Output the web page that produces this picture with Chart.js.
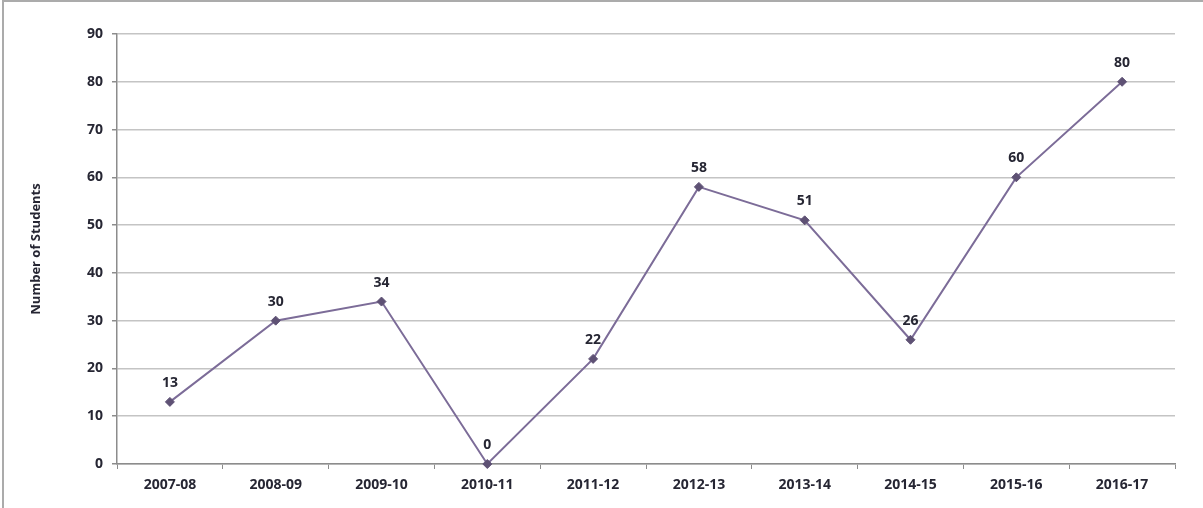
<!DOCTYPE html>
<html>
<head>
<meta charset="UTF-8"/>
<script src="https://cdn.jsdelivr.net/npm/chart.js"></script>
<style>
  html, body { margin: 0; padding: 0; background: #fff; }
  .wrap { position: relative; width: 1203px; height: 508px; }
  .frame { position: absolute; left: 2px; top: 0; width: 1300px; height: 600px; border-left: 2px solid #ababab; border-top: 2px solid #ababab; pointer-events: none; }
</style>
</head>
<body>
<div class="wrap">
  <canvas id="c" width="1203" height="508"></canvas>
  <div class="frame"></div>
</div>
<script>
const years = ['2007-08', '2008-09', '2009-10', '2010-11', '2011-12', '2012-13', '2013-14', '2014-15', '2015-16', '2016-17'];
const students = [13, 30, 34, 0, 22, 58, 51, 26, 60, 80];
const yTicks = [0, 10, 20, 30, 40, 50, 60, 70, 80, 90];

const FONT = 'Open Sans, sans-serif';
const TEXT = '#262633';

// value labels over each point
const valueLabels = {
  id: 'valueLabels',
  afterDatasetsDraw(chart) {
    const ctx = chart.ctx;
    const meta = chart.getDatasetMeta(0);
    ctx.save();
    ctx.font = 'bold 14px ' + FONT;
    ctx.fillStyle = TEXT;
    ctx.textAlign = 'center';
    ctx.textBaseline = 'middle';
    meta.data.forEach((pt, i) => {
      ctx.fillText(String(students[i]), pt.x, pt.y - 19);
    });
    ctx.restore();
  }
};

new Chart(document.getElementById('c'), {
  type: 'line',
  data: {
    labels: years,
    datasets: [{
      data: students,
      borderColor: '#7c6c98',
      borderWidth: 2,
      pointStyle: 'rectRot',
      pointRadius: 4.5,
      pointBackgroundColor: '#5e5174',
      pointBorderColor: '#5e5174',
      pointBorderWidth: 1,
      tension: 0,
      clip: false
    }]
  },
  options: {
    responsive: false,
    animation: false,
    layout: { padding: { left: 22, top: 34, right: 28, bottom: 0 } },
    plugins: { legend: { display: false }, tooltip: { enabled: false } },
    scales: {
      x: {
        offset: true,
        grid: { offset: true, drawOnChartArea: false, tickLength: 5, tickColor: '#8c8c8c' },
        border: { color: '#8c8c8c', width: 1.5 },
        ticks: { font: { family: FONT, size: 14, weight: 'bold' }, color: TEXT, padding: 8, maxRotation: 0 },
        afterFit(scale) { scale.height = 44; }
      },
      y: {
        min: 0,
        max: 90,
        afterBuildTicks(scale) { scale.ticks = yTicks.map(v => ({ value: v })); },
        grid: { color: '#c4c4c4', lineWidth: 1.5, tickLength: 5, tickColor: '#8c8c8c' },
        border: { color: '#8c8c8c', width: 1.5 },
        ticks: { font: { family: FONT, size: 14, weight: 'bold' }, color: TEXT, padding: 9 },
        title: {
          display: true,
          text: 'Number of Students',
          font: { family: FONT, size: 13, weight: 'bold' },
          color: TEXT,
          padding: { top: 6, bottom: 0 }
        },
        afterFit(scale) { scale.width = 95; }
      }
    }
  },
  plugins: [valueLabels]
});
</script>
</body>
</html>
